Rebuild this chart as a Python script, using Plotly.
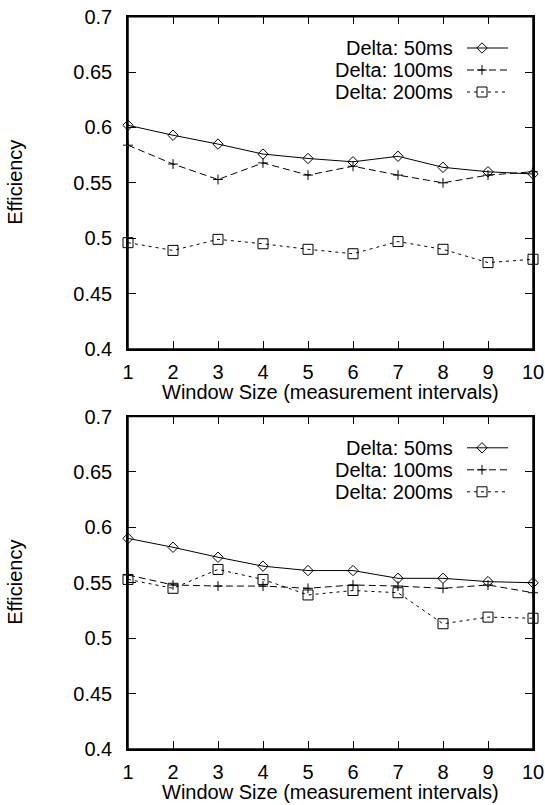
import plotly.graph_objects as go

# ---- data -------------------------------------------------------------
window = [1, 2, 3, 4, 5, 6, 7, 8, 9, 10]

top_50ms = [0.602, 0.593, 0.585, 0.576, 0.572, 0.569, 0.574, 0.564, 0.560, 0.558]
top_100ms = [0.584, 0.567, 0.553, 0.568, 0.557, 0.565, 0.557, 0.550, 0.557, 0.560]
top_200ms = [0.496, 0.489, 0.499, 0.495, 0.490, 0.486, 0.497, 0.490, 0.478, 0.481]

bot_50ms = [0.590, 0.582, 0.573, 0.565, 0.561, 0.561, 0.554, 0.554, 0.551, 0.550]
bot_100ms = [0.557, 0.548, 0.547, 0.547, 0.545, 0.548, 0.547, 0.545, 0.548, 0.541]
bot_200ms = [0.553, 0.545, 0.562, 0.553, 0.539, 0.543, 0.541, 0.513, 0.519, 0.518]

series_names = ["Delta: 50ms", "Delta: 100ms", "Delta: 200ms"]
y_ticks = [0.4, 0.45, 0.5, 0.55, 0.6, 0.65, 0.7]
y_tick_text = ["0.4", "0.45", "0.5", "0.55", "0.6", "0.65", "0.7"]

# ---- page geometry (pixels) ------------------------------------------
W, H = 545, 805
LEFT, RIGHT = 128, 533
FONT = "Liberation Sans, Arial, Helvetica"
FS = 20


def px(x):
    return x / W


def py(y):
    return 1 - y / H


styles = [
    dict(dash="solid", symbol="diamond-open", size=8),
    dict(dash="7px,4px", symbol="cross-thin-open", size=7),
    dict(dash="3px,4px", symbol="square-open", size=10),
]

panels = [
    dict(ax="", top=16.7, bottom=349, data=[top_50ms, top_100ms, top_200ms]),
    dict(ax="2", top=416.5, bottom=749, data=[bot_50ms, bot_100ms, bot_200ms]),
]

fig = go.Figure()

for p in panels:
    for vals, st, nm in zip(p["data"], styles, series_names):
        fig.add_trace(go.Scatter(
            x=window, y=vals, name=nm, mode="lines+markers",
            xaxis="x" + p["ax"], yaxis="y" + p["ax"], cliponaxis=False,
            line=dict(color="black", width=1, dash=st["dash"]),
            marker=dict(symbol=st["symbol"], size=st["size"], color="black",
                        line=dict(color="black", width=1)),
            showlegend=False,
        ))

# ---- key (drawn on a page-sized helper axis in pixel units) -----------
key_rows = [48, 70, 92]
annotations = []
shapes = []
for p in panels:
    off = p["top"] - panels[0]["top"]
    for row, st, nm in zip(key_rows, styles, series_names):
        yk = row + off
        fig.add_trace(go.Scatter(
            x=[467, 508], y=[yk, yk], mode="lines", xaxis="x3", yaxis="y3",
            line=dict(color="black", width=1, dash=st["dash"]),
            showlegend=False, hoverinfo="skip"))
        fig.add_trace(go.Scatter(
            x=[482], y=[yk], mode="markers", xaxis="x3", yaxis="y3",
            marker=dict(symbol=st["symbol"], size=st["size"], color="black",
                        line=dict(color="black", width=1)),
            showlegend=False, hoverinfo="skip"))
        annotations.append(dict(
            x=px(455), y=py(yk), xref="paper", yref="paper", text=nm,
            showarrow=False, xanchor="right", yanchor="middle",
            font=dict(family=FONT, size=FS, color="black")))
    # axis titles
    annotations.append(dict(
        x=px(15), y=py((p["top"] + p["bottom"]) / 2), xref="paper", yref="paper",
        text="Efficiency", textangle=-90, showarrow=False,
        xanchor="center", yanchor="middle",
        font=dict(family=FONT, size=FS, color="black")))
    annotations.append(dict(
        x=px((LEFT + RIGHT) / 2), y=py(p["bottom"] + 43), xref="paper",
        yref="paper", text="Window Size (measurement intervals)",
        showarrow=False, xanchor="center", yanchor="middle",
        font=dict(family=FONT, size=FS, color="black")))
    # plot frame (page-referenced so it is never clipped)
    shapes.append(dict(
        type="rect", xref="paper", yref="paper",
        x0=px(LEFT), x1=px(RIGHT), y0=py(p["bottom"]), y1=py(p["top"]),
        line=dict(color="black", width=1.5), layer="above"))

axis_common = dict(
    showgrid=False, zeroline=False, showline=True, linecolor="black",
    linewidth=1.5, mirror="ticks", ticks="inside", ticklen=8,
    tickcolor="black", tickwidth=1.2, automargin=False,
    tickfont=dict(family=FONT, size=FS, color="black"),
)

layout = dict(
    template="none",
    width=W, height=H, margin=dict(l=0, r=0, t=0, b=0, pad=0),
    paper_bgcolor="white", plot_bgcolor="rgba(0,0,0,0)",
    annotations=annotations, shapes=shapes,
    xaxis3=dict(domain=[0, 1], range=[0, W], visible=False, anchor="y3",
                fixedrange=True, automargin=False),
    yaxis3=dict(domain=[0, 1], range=[H, 0], visible=False, anchor="x3",
                fixedrange=True, automargin=False),
)
for p in panels:
    a = p["ax"]
    layout["xaxis" + a] = dict(
        axis_common, domain=[px(LEFT), px(RIGHT)], range=[1, 10],
        tickvals=window, anchor="y" + a, ticklabelstandoff=4)
    layout["yaxis" + a] = dict(
        axis_common, domain=[py(p["bottom"]), py(p["top"])], range=[0.4, 0.7],
        tickvals=y_ticks, ticktext=y_tick_text, anchor="x" + a,
        ticklabelstandoff=10)

fig.update_layout(**layout)
fig.write_html(
    "out.html",
    post_script="document.body.style.margin='0';"
                "document.body.style.overflow='hidden';",
)
